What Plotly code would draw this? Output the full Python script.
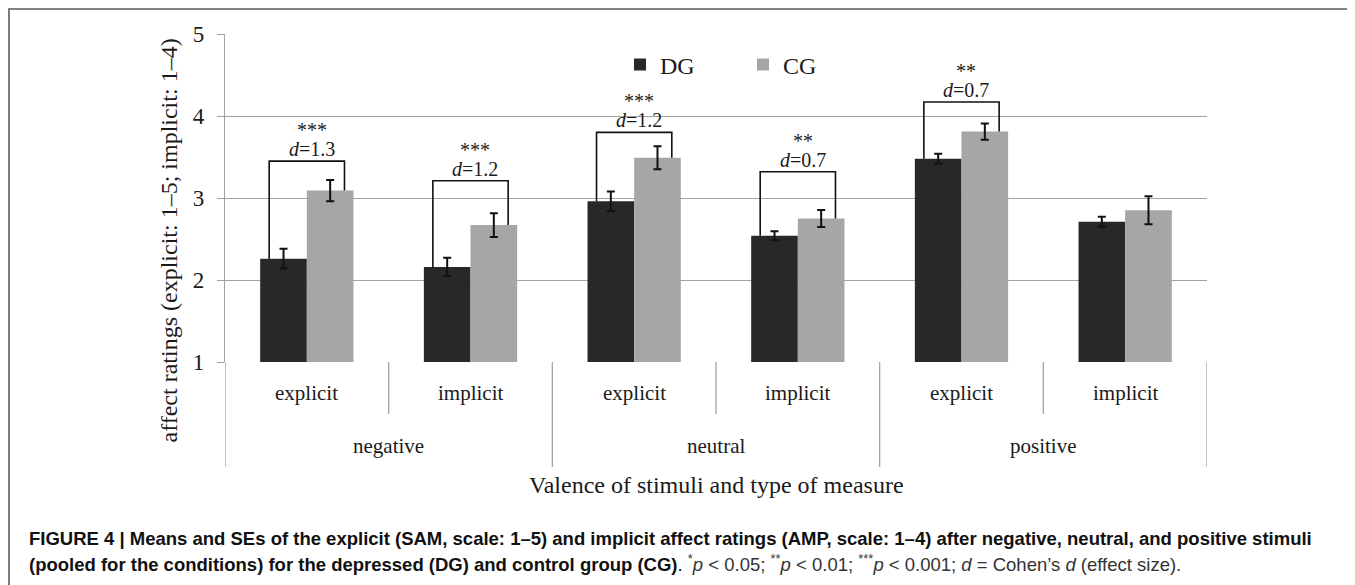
import plotly.graph_objects as go

# ---------------- data ----------------
valence = ["negative", "neutral", "positive"]
measures = ["explicit", "implicit"]
groups = ["DG", "CG"]

dg_mean = [2.26, 2.16, 2.96, 2.54, 3.48, 2.71]
dg_se = [0.12, 0.11, 0.12, 0.055, 0.06, 0.06]
cg_mean = [3.09, 2.67, 3.49, 2.75, 3.81, 2.85]
cg_se = [0.13, 0.145, 0.14, 0.105, 0.10, 0.17]

sig_index = [0, 1, 2, 3, 4]
sig_stars = ["***", "***", "***", "**", "**"]
sig_d = ["1.3", "1.2", "1.2", "0.7", "0.7"]
bracket_top = [3.45, 3.21, 3.80, 3.32, 4.17]

y_ticks = [1, 2, 3, 4, 5]

caption_1 = ("FIGURE 4 | Means and SEs of the explicit (SAM, scale: 1–5) and implicit affect ratings "
             "(AMP, scale: 1–4) after negative, neutral, and positive stimuli")
caption_2_bold = "(pooled for the conditions) for the depressed (DG) and control group (CG)"
caption_2_rest = ("<sup>*</sup><i>p</i> < 0.05; <sup>**</sup><i>p</i> < 0.01; <sup>***</sup><i>p</i> < 0.001; "
                  "<i>d</i> = Cohen’s <i>d</i> (effect size).")

# ---------------- layout geometry (screen pixels of the reference) ----------------
OFF = 8                       # default page margin of the html body
W, H = 1355 - OFF, 585 - OFF
SL, SR, ST, SB = 225, 1207, 34, 362
PW, PH = SR - SL, SB - ST


def px(x):
    return (x - SL) / PW


def py(y):
    return (SB - y) / PH


SERIF = "Liberation Serif, Times New Roman, serif"
SANS = "Liberation Sans, Arial, Helvetica, sans-serif"
TXT = "#1a1a1a"
GRID = "#a3a3a3"

cats = [f"{v} {m}" for v in valence for m in measures]
xs = list(range(len(cats)))

fig = go.Figure()
fig.add_trace(go.Bar(
    x=xs, y=[m - 1 for m in dg_mean], base=1, name=groups[0],
    marker=dict(color="#282828", line=dict(width=0)),
    error_y=dict(type="data", array=dg_se, color="#111111", thickness=2, width=4),
    hoverinfo="skip",
))
fig.add_trace(go.Bar(
    x=xs, y=[m - 1 for m in cg_mean], base=1, name=groups[1],
    marker=dict(color="#a6a6a6", line=dict(width=0)),
    error_y=dict(type="data", array=cg_se, color="#111111", thickness=2, width=4),
    hoverinfo="skip",
))

shapes = []
annotations = []

# significance brackets
leg = 0.23
for i, st, d, top in zip(sig_index, sig_stars, sig_d, bracket_top):
    xl, xr = i - leg, i + leg
    shapes.append(dict(
        type="path", xref="x", yref="y",
        path=f"M {xl},{dg_mean[i]} L {xl},{top} L {xr},{top} L {xr},{cg_mean[i]}",
        line=dict(color="#111111", width=1.6),
    ))
    annotations.append(dict(x=i + 0.03, y=top, xref="x", yref="y", text=st, showarrow=False,
                            yanchor="middle", yshift=31, font=dict(family=SERIF, size=20, color=TXT)))
    annotations.append(dict(x=i + 0.03, y=top, xref="x", yref="y", text=f"<i>d</i>={d}", showarrow=False,
                            yanchor="middle", yshift=12, font=dict(family=SERIF, size=20, color=TXT)))

# category dividers
for k in range(len(cats) + 1):
    b = k - 0.5
    outer = (k % len(measures) == 0)
    shapes.append(dict(
        type="line", xref="x", yref="paper", x0=b, x1=b, y0=0, y1=py(467) if outer else py(414),
        line=dict(color=GRID, width=1.3),
    ))

# category labels (inner and outer)
for j, c in enumerate(cats):
    annotations.append(dict(x=j, y=py(393), xref="x", yref="paper", text=measures[j % len(measures)],
                            showarrow=False, yanchor="middle",
                            font=dict(family=SERIF, size=21, color=TXT)))
for g, v in enumerate(valence):
    annotations.append(dict(x=g * len(measures) + 0.5, y=py(446), xref="x", yref="paper", text=v,
                            showarrow=False, yanchor="middle",
                            font=dict(family=SERIF, size=21, color=TXT)))

# axis titles
annotations.append(dict(x=2.5, y=py(485), xref="x", yref="paper",
                        text="Valence of stimuli and type of measure", showarrow=False,
                        yanchor="middle", font=dict(family=SERIF, size=24, color=TXT)))
annotations.append(dict(x=px(168), y=py(240.5), xref="paper", yref="paper",
                        text="affect ratings (explicit: 1–5; implicit: 1–4)", showarrow=False,
                        textangle=-90, xanchor="center", yanchor="middle",
                        font=dict(family=SERIF, size=24, color=TXT)))

# caption
annotations.append(dict(x=px(27), y=py(538), xref="paper", yref="paper", xanchor="left", yanchor="middle",
                        text=f"<b>{caption_1}</b>", showarrow=False, align="left",
                        font=dict(family=SANS, size=18.5, color="#111111")))
annotations.append(dict(x=px(27), y=py(563), xref="paper", yref="paper", xanchor="left", yanchor="middle",
                        text=f"<b>{caption_2_bold}</b>. <span style='color:#333333'>{caption_2_rest}</span>",
                        showarrow=False, align="left",
                        font=dict(family=SANS, size=18.5, color="#111111")))

# outer frame
shapes.append(dict(type="rect", xref="paper", yref="paper",
                   x0=px(9), x1=px(1354), y0=py(600), y1=py(9),
                   line=dict(color="#5a5a5a", width=1.6), fillcolor="rgba(0,0,0,0)", layer="above"))

fig.update_layout(
    width=W, height=H,
    margin=dict(l=SL - OFF, r=W - (SR - OFF), t=ST - OFF, b=H - (SB - OFF), pad=0),
    paper_bgcolor="white", plot_bgcolor="white",
    barmode="group", bargap=0.43, bargroupgap=0,
    showlegend=True,
    legend=dict(orientation="h", x=px(620), xanchor="left", y=py(65), yanchor="middle",
                font=dict(family=SERIF, size=24, color=TXT), entrywidth=78,
                bgcolor="rgba(0,0,0,0)", itemclick=False, itemdoubleclick=False),
    shapes=shapes, annotations=annotations,
    xaxis=dict(range=[-0.5, len(cats) - 0.5], showticklabels=False, ticks="", showgrid=False,
               zeroline=False, showline=False, fixedrange=True),
    yaxis=dict(range=[1, 5], tickvals=y_ticks, showgrid=True, gridcolor=GRID, gridwidth=1.3,
               zeroline=False, showline=True, linecolor=GRID, linewidth=1.3,
               ticks="outside", ticklen=7, tickcolor=GRID, tickwidth=1.3,
               tickfont=dict(family=SERIF, size=23, color=TXT), ticklabelstandoff=8, fixedrange=True),
)

fig.write_html("out.html")
